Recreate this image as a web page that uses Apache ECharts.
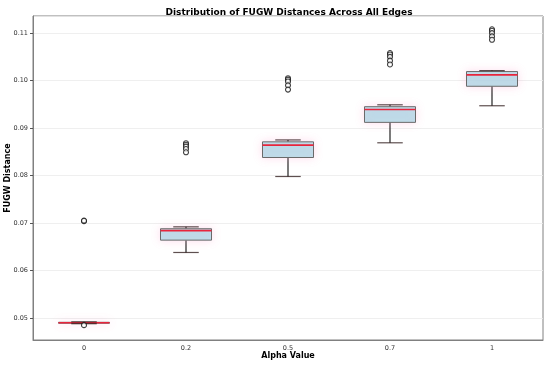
<!DOCTYPE html>
<html>
<head>
<meta charset="utf-8">
<script src="https://cdn.jsdelivr.net/npm/echarts@6/dist/echarts.min.js"></script>
<style>html,body{margin:0;padding:0;background:#fff}#c{width:550px;height:369px}</style>
</head>
<body>
<div id="c"></div>
<script>
var categories = ['0', '0.2', '0.5', '0.7', '1'];
var whiskerLow  = [0.0488, 0.0638, 0.0798, 0.0869, 0.0947];
var q1          = [0.0489, 0.0664, 0.0838, 0.0912, 0.0988];
var median      = [0.0490, 0.0684, 0.0864, 0.0939, 0.1012];
var q3          = [0.0491, 0.0688, 0.0871, 0.0945, 0.1019];
var whiskerHigh = [0.0492, 0.0692, 0.0875, 0.0949, 0.1021];
var outliers = [
  [0.0704, 0.0705, 0.0485],
  [0.0868, 0.0865, 0.0861, 0.0856, 0.0849],
  [0.1005, 0.1002, 0.0998, 0.0990, 0.0981],
  [0.1058, 0.1055, 0.1050, 0.1042, 0.1034],
  [0.1108, 0.1105, 0.1100, 0.1093, 0.1086]
];

var boxData = categories.map(function (c, i) {
  return [i, whiskerLow[i], q1[i], median[i], q3[i], whiskerHigh[i]];
});
var outlierData = [];
outliers.forEach(function (arr, i) {
  arr.forEach(function (v) { outlierData.push([i, v]); });
});

var FONT = 'DejaVu Sans';
var chart = echarts.init(document.getElementById('c'));
chart.setOption({
  animation: false,
  backgroundColor: '#fff',
  title: {
    text: 'Distribution of FUGW Distances Across All Edges',
    left: 284, textAlign: 'center', top: 2,
    textStyle: { fontFamily: FONT, fontSize: 9, fontWeight: 'bold', color: '#000', lineHeight: 11 }
  },
  grid: { left: 33, right: 7, top: 16, bottom: 29, show: true, borderColor: '#808080', borderWidth: 1,
    containLabel: false, outerBoundsMode: 'none' },
  xAxis: {
    type: 'category', data: categories, boundaryGap: true,
    name: 'Alpha Value', nameLocation: 'middle', nameGap: 12, nameMoveOverlap: false,
    nameTextStyle: { fontFamily: FONT, fontSize: 8, fontWeight: 'bold', color: '#000', verticalAlign: 'top' },
    axisLine: { lineStyle: { color: '#808080' } },
    axisTick: { alignWithLabel: true, length: 3, lineStyle: { color: '#555' } },
    axisLabel: { fontFamily: FONT, fontSize: 6.5, color: '#333', margin: 5 },
    splitLine: { show: false }
  },
  yAxis: {
    type: 'value', min: 0.04537, max: 0.1136,
    name: 'FUGW Distance', nameLocation: 'middle', nameGap: 21, nameMoveOverlap: false,
    nameTextStyle: { fontFamily: FONT, fontSize: 8, fontWeight: 'bold', color: '#000' },
    axisLine: { show: true, lineStyle: { color: '#808080' } },
    axisTick: { show: true, length: 3, lineStyle: { color: '#555' } },
    axisLabel: { fontFamily: FONT, fontSize: 6.5, color: '#333', margin: 5, showMinLabel: false, showMaxLabel: false,
      formatter: function (v) { return v.toFixed(2); } },
    splitLine: { show: true, lineStyle: { color: '#ebebeb', width: 0.8 } }
  },
  series: [
    {
      type: 'custom',
      data: boxData,
      z: 3,
      renderItem: function (params, api) {
        var idx = api.value(0);
        var w = api.size([1, 0])[0] * 0.5;
        var pLow = api.coord([idx, api.value(1)]);
        var pQ1 = api.coord([idx, api.value(2)]);
        var pMed = api.coord([idx, api.value(3)]);
        var pQ3 = api.coord([idx, api.value(4)]);
        var pHigh = api.coord([idx, api.value(5)]);
        var x = pLow[0];
        var wl = { stroke: '#222', lineWidth: 1.2 };
        var cap = { stroke: 'rgba(40,20,20,0.75)', lineWidth: 1.2 };
        var boxH = Math.max(pQ1[1] - pQ3[1], 0.5);
        return {
          type: 'group',
          children: [
            { type: 'line', shape: { x1: x, y1: pLow[1], x2: x, y2: pQ1[1] }, style: wl },
            { type: 'line', shape: { x1: x, y1: pQ3[1], x2: x, y2: pHigh[1] }, style: wl },
            { type: 'rect', shape: { x: x - w / 2, y: pQ3[1], width: w, height: boxH },
              style: { fill: 'rgba(173,216,230,0.8)', stroke: '#6a6a6a', lineWidth: 1,
                shadowBlur: 8, shadowColor: 'rgba(255,170,210,0.45)' } },
            { type: 'line', shape: { x1: x - w / 2, y1: pMed[1], x2: x + w / 2, y2: pMed[1] },
              style: { stroke: '#e8243c', lineWidth: 1.6 } },
            { type: 'line', shape: { x1: x - w / 4, y1: pLow[1], x2: x + w / 4, y2: pLow[1] }, style: cap },
            { type: 'line', shape: { x1: x - w / 4, y1: pHigh[1], x2: x + w / 4, y2: pHigh[1] }, style: cap }
          ]
        };
      }
    },
    {
      type: 'scatter',
      data: outlierData,
      z: 4,
      symbol: 'circle',
      symbolSize: 5,
      itemStyle: { color: '#fff', borderColor: '#111', borderWidth: 1.1 }
    }
  ]
});
</script>
</body>
</html>
